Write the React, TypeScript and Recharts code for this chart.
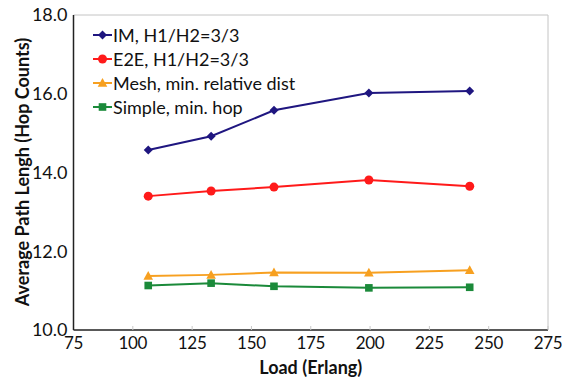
import React from 'react';
import {
  LineChart,
  Line,
  XAxis,
  YAxis,
  ReferenceLine
} from 'recharts';

const loads = [106.5, 133, 159.5, 199.5, 242];
const imValues = [14.57, 14.92, 15.58, 16.02, 16.07];
const e2eValues = [13.4, 13.53, 13.63, 13.81, 13.65];
const meshValues = [11.37, 11.4, 11.46, 11.455, 11.52];
const simpleValues = [11.13, 11.19, 11.11, 11.07, 11.085];

const xTicks = [75, 100, 125, 150, 175, 200, 225, 250, 275];
const yTicks = [10, 12, 14, 16, 18];

const seriesNames = [
  'IM, H1/H2=3/3',
  'E2E, H1/H2=3/3',
  'Mesh, min. relative dist',
  'Simple, min. hop'
];

const data = loads.map((load, i) => ({
  load,
  im: imValues[i],
  e2e: e2eValues[i],
  mesh: meshValues[i],
  simple: simpleValues[i]
}));

const FONT = 'Lato, "Open Sans", sans-serif';

const COLORS = {
  im: '#1f1680',
  e2e: '#ff1a1a',
  mesh: '#f7a020',
  simple: '#1b8a3a'
};

type Shape = 'diamond' | 'circle' | 'triangle' | 'square';

function Marker({ cx, cy, shape, color }: { cx: number; cy: number; shape: Shape; color: string }) {
  if (cx == null || cy == null) return null;
  switch (shape) {
    case 'diamond':
      return <path d={`M${cx},${cy - 4.5}L${cx + 4.5},${cy}L${cx},${cy + 4.5}L${cx - 4.5},${cy}Z`} fill={color} />;
    case 'circle':
      return <circle cx={cx} cy={cy} r={4.5} fill={color} />;
    case 'triangle':
      return <path d={`M${cx},${cy - 5}L${cx + 4.8},${cy + 3.8}L${cx - 4.8},${cy + 3.8}Z`} fill={color} />;
    default:
      return <rect x={cx - 3.8} y={cy - 3.8} width={7.6} height={7.6} fill={color} />;
  }
}

const series: { key: keyof typeof COLORS; shape: Shape; name: string }[] = [
  { key: 'im', shape: 'diamond', name: seriesNames[0] },
  { key: 'e2e', shape: 'circle', name: seriesNames[1] },
  { key: 'mesh', shape: 'triangle', name: seriesNames[2] },
  { key: 'simple', shape: 'square', name: seriesNames[3] }
];

// legend sits inside the plot area, top-left corner
function LegendBox() {
  return (
    <div
      style={{
        position: 'absolute',
        left: 93,
        top: 23,
        fontFamily: FONT,
        fontSize: 18,
        color: '#111',
        lineHeight: '24px'
      }}
    >
      {series.map((s) => (
        <div key={s.key} style={{ display: 'flex', alignItems: 'center', height: 24 }}>
          <svg width={19} height={12} style={{ marginRight: 1 }}>
            <line x1={0} y1={6} x2={19} y2={6} stroke={COLORS[s.key]} strokeWidth={2} />
            <Marker cx={9.5} cy={6} shape={s.shape} color={COLORS[s.key]} />
          </svg>
          <span>{s.name}</span>
        </div>
      ))}
    </div>
  );
}

export default function App() {
  return (
    <div style={{ position: 'absolute', left: 0, top: 0, width: 562, height: 380, background: '#fff' }}>
      <LineChart
        width={562}
        height={380}
        data={data}
        margin={{ top: 15, right: 14, bottom: 0, left: 0 }}
      >
        <ReferenceLine y={18} stroke="#c4c4c4" strokeWidth={1} />
        <ReferenceLine x={275} stroke="#c4c4c4" strokeWidth={1} />
        <XAxis
          dataKey="load"
          type="number"
          domain={[75, 275]}
          ticks={xTicks}
          height={50}
          stroke="#222"
          strokeWidth={1.5}
          tickSize={-4}
          tickMargin={11}
          tickLine={{ stroke: '#c8c8c8', strokeWidth: 1 }}
          tick={{ fill: '#111', fontSize: 17, fontFamily: FONT, letterSpacing: -0.3 }}
          label={{
            content: ({ viewBox }: any) => (
              <text
                x={viewBox.x + viewBox.width / 2}
                y={viewBox.y + 44}
                textAnchor="middle"
                fontFamily={FONT}
                fontSize={18}
                fontWeight="bold"
                fill="#111"
              >
                Load (Erlang)
              </text>
            )
          }}
        />
        <YAxis
          type="number"
          domain={[10, 18]}
          ticks={yTicks}
          width={73.5}
          stroke="#222"
          strokeWidth={1.5}
          tickLine={false}
          tickSize={0}
          tickMargin={6}
          tickFormatter={(v: number) => v.toFixed(1)}
          tick={{ fill: '#111', fontSize: 18, fontFamily: FONT }}
          label={{
            content: () => {
              const cx = 22;
              const cy = 172;
              return (
                <text
                  x={cx}
                  y={cy}
                  transform={`rotate(-90 ${cx} ${cy})`}
                  textAnchor="middle"
                  dominantBaseline="central"
                  fontFamily={FONT}
                  fontSize={18}
                  fontWeight="bold"
                  fill="#111"
                >
                  Average Path Lengh (Hop Counts)
                </text>
              );
            }
          }}
        />
        {series.map((s) => (
          <Line
            key={s.key}
            type="linear"
            dataKey={s.key}
            name={s.name}
            stroke={COLORS[s.key]}
            strokeWidth={2}
            isAnimationActive={false}
            dot={(props: any) => (
              <Marker key={`${s.key}-${props.index}`} cx={props.cx} cy={props.cy} shape={s.shape} color={COLORS[s.key]} />
            )}
            activeDot={false}
          />
        ))}
      </LineChart>
      <LegendBox />
    </div>
  );
}
